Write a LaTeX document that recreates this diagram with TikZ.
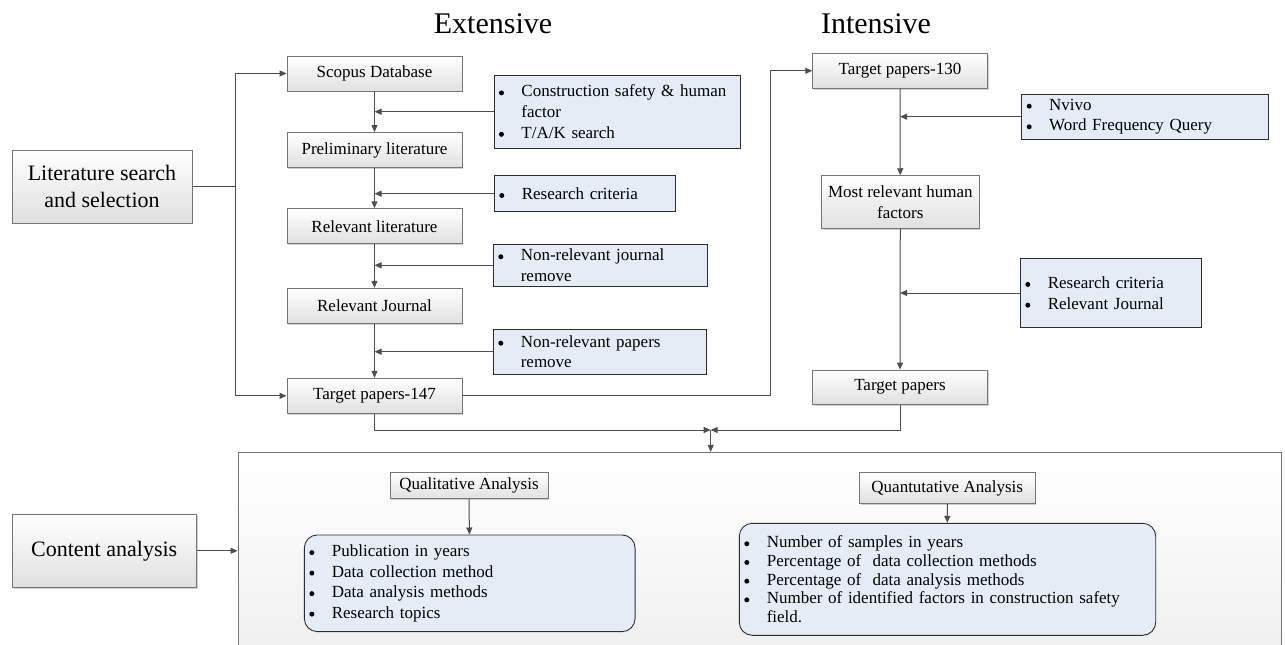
\documentclass[tikz,border=0pt]{standalone}
\usepackage{fontspec}
\setmainfont{Liberation Serif}
\usetikzlibrary{arrows.meta,shadows,calc}
\definecolor{sidefill}{RGB}{230,236,246}
\definecolor{mainbot}{RGB}{224,224,224}
\definecolor{boxborder}{RGB}{118,118,118}
\definecolor{sideborder}{RGB}{45,45,45}
\definecolor{arrcol}{RGB}{78,78,78}
\definecolor{contbot}{RGB}{236,236,236}
\newcommand{\fsz}[2]{\fontsize{#1}{#2}\selectfont}
\newcommand{\bdot}{\tikz[baseline=0pt,x=1pt,y=1pt]{\fill[black] (4,4) circle (2.5);}}
\newcommand{\bul}{\makebox[22.5pt][l]{\bdot}}
\newcommand{\cont}{\hspace*{22.5pt}}
\tikzset{
  mainbox/.style={draw=boxborder, line width=0.9pt, top color=white, bottom color=mainbot,
    inner sep=0pt, align=center, font=\fsz{17}{20.7},
    drop shadow={shadow xshift=1.4pt, shadow yshift=-1.4pt, fill=black, opacity=0.18}},
  bigbox/.style={mainbox, font=\fsz{22}{26.7}},
  sidebox/.style={draw=sideborder, line width=0.9pt, fill=sidefill, inner xsep=5pt, inner ysep=0pt,
    align=left, font=\fsz{17}{20.7}},
  listbox/.style={sidebox, rounded corners=13pt},
  arr/.style={draw=arrcol, line width=1pt, -{Triangle[length=7pt,width=6pt]}},
  ln/.style={draw=arrcol, line width=1pt},
  title/.style={anchor=base, inner sep=0pt, font=\fsz{30}{36}}
}
\begin{document}
\begin{tikzpicture}[x=1pt,y=-1pt]
\clip (0,0) rectangle (1285,645);
\fill[white] (0,0) rectangle (1285,645);

% titles
\node[title] (ext) at (493,33.3) {Extensive};
\node[title] (int) at (876,33.3) {Intensive};

% left boxes
\node[bigbox, minimum width=180pt, minimum height=73pt] (lit) at (102,186.5) {Literature search\\and selection};
\node[bigbox, minimum width=184pt, minimum height=73pt] (ca) at (104.2,550.8) {Content analysis};

% extensive column
\node[mainbox, minimum width=175pt, minimum height=35pt] (scopus) at (374.5,73.5) {Scopus Database};
\node[mainbox, minimum width=175pt, minimum height=35pt] (prelim) at (374.5,150) {Preliminary literature};
\node[mainbox, minimum width=175pt, minimum height=35pt] (rellit) at (374.5,226.2) {Relevant literature};
\node[mainbox, minimum width=175pt, minimum height=35pt] (relj) at (374.5,305.8) {Relevant Journal};
\node[mainbox, minimum width=175pt, minimum height=35pt] (t147) at (374.5,395.8) {Target papers-147};

% side boxes
\node[sidebox, text width=236.7pt, minimum height=73.3pt] (s1) at (617.3,111.7)
  {\bul Construction safety \& human\\\cont factor\\\bul T/A/K search};
\node[sidebox, text width=171pt, minimum height=36pt] (s2) at (584.8,193.7)
  {\bul Research criteria};
\node[sidebox, text width=204.4pt, minimum height=42.7pt] (s3) at (600.5,265.3)
  {\bul Non-relevant journal\\\cont remove};
\node[sidebox, text width=203.4pt, minimum height=44.7pt] (s4) at (600,351.7)
  {\bul Non-relevant papers\\\cont remove};

% intensive column
\node[mainbox, minimum width=174.6pt, minimum height=35pt] (t130) at (900,70.8) {Target papers-130};
\node[mainbox, minimum width=157.3pt, minimum height=53pt] (most) at (900.3,202.2) {Most relevant human\\factors};
\node[mainbox, minimum width=174.6pt, minimum height=34.3pt] (tp) at (900,387.2) {Target papers};

\node[sidebox, text width=236.6pt, minimum height=45.3pt] (nv) at (1145,116.7)
  {\bul Nvivo\\\bul Word Frequency Query};
\node[sidebox, text width=171pt, minimum height=68.6pt] (rj) at (1110.8,293)
  {\bul Research criteria\\\bul Relevant Journal};

% content box
\node[draw=boxborder, line width=0.9pt, top color=white, bottom color=contbot, inner sep=0pt,
  minimum width=1043.7pt, minimum height=247.7pt] (content) at (759.85,576.15) {};

\node[mainbox, minimum width=158pt, minimum height=26.4pt] (qual) at (469,485.5) {Qualitative Analysis};
\node[mainbox, minimum width=175.7pt, minimum height=30.6pt] (quant) at (947.2,488) {Quantutative Analysis};

\node[listbox, text width=320.7pt, minimum height=96.7pt, font=\fsz{17}{20.5}] (qlist) at (469.7,583.3)
  {\bul Publication in years\\\bul Data collection method\\\bul Data analysis methods\\\bul Research topics};
\node[listbox, text width=406.4pt, minimum height=112pt, font=\fsz{17}{18.7}] (nlist) at (947.5,579.3)
  {\bul Number of samples in years\\
   \bul Percentage of \ data collection methods\\
   \bul Percentage of \ data analysis methods\\
   \bul \makebox[346pt][s]{Number of identified factors in construction safety}\\
   \cont field.};

% connectors: literature search
\coordinate (jL) at (235,186.5);
\draw[ln] (lit.east) -- (jL);
\draw[arr] (jL) |- (scopus.west);
\draw[arr] (jL) |- (t147.west);

% extensive chain
\draw[arr] (scopus) -- (prelim);
\draw[arr] (prelim) -- (rellit);
\draw[arr] (rellit) -- (relj);
\draw[arr] (relj) -- (t147);
\draw[arr] (s1.west) -- (s1.west -| scopus.south);
\draw[arr] (s2.west) -- (s2.west -| scopus.south);
\draw[arr] (s3.west) -- (s3.west -| scopus.south);
\draw[arr] (s4.west) -- (s4.west -| scopus.south);

% to intensive
\coordinate (jR) at (770,70.8);
\draw[arr] (t147.east) -| (jR) -- (t130.west);
\draw[arr] (t130) -- (most);
\draw[arr] (most) -- (tp);
\draw[arr] (nv.west) -- (nv.west -| t130.south);
\draw[arr] (rj.west) -- (rj.west -| t130.south);

% merge
\coordinate (jm) at (710.7,430);
\draw[arr] (t147.south) |- (jm);
\draw[arr] (tp.south) |- (jm);
\draw[arr] (jm) -- (jm |- content.north);

% content
\draw[arr] (ca.east) -- (ca.east -| content.west);
\draw[arr] (qual) -- (qlist);
\draw[arr] (quant) -- (nlist);
\end{tikzpicture}
\end{document}
